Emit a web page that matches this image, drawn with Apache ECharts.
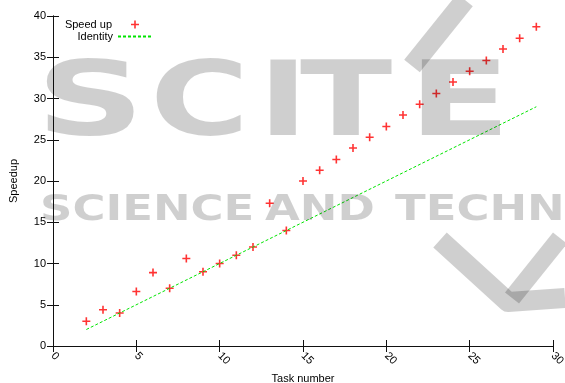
<!DOCTYPE html>
<html>
<head>
<meta charset="utf-8">
<script src="https://cdn.jsdelivr.net/npm/echarts@6/dist/echarts.min.js"></script>
<style>
  html, body { margin: 0; padding: 0; background: #fff; }
  #main { width: 565px; height: 383px; }
</style>
</head>
<body>
<div id="main"></div>
<script>
// measured values
var taskNumbers = [2, 3, 4, 5, 6, 7, 8, 9, 10, 11, 12, 13, 14, 15, 16, 17, 18, 19, 20, 21, 22, 23, 24, 25, 26, 27, 28, 29];
var speedup = [3, 4.4, 4, 6.6, 8.9, 7, 10.6, 9, 10, 11, 12, 17.3, 14, 20, 21.3, 22.6, 24, 25.3, 26.6, 28, 29.3, 30.6, 32, 33.3, 34.6, 36, 37.3, 38.7];
var identityX = [2, 29];
var identityY = [2, 29];
var xTicks = [0, 5, 10, 15, 20, 25, 30];
var yTicks = [0, 5, 10, 15, 20, 25, 30, 35, 40];

document.addEventListener('DOMContentLoaded', function () {
  var myChart = echarts.init(document.getElementById('main'));
  var font = 'Liberation Sans, Arial, sans-serif';
  var plus = 'path://M4,0 H6 V4 H10 V6 H6 V10 H4 V6 H0 V4 H4 Z';
  var wm = 'rgba(0,0,0,0.19)';

  var speedData = taskNumbers.map(function (t, i) { return [t, speedup[i]]; });
  var idData = identityX.map(function (t, i) { return [t, identityY[i]]; });

  // shared axis look (gnuplot style: ticks inside, mirrored)
  function axisBase(extra) {
    var a = {
      axisLine: { show: true, lineStyle: { color: '#111', width: 1 } },
      axisTick: { show: true, inside: true, length: 6, lineStyle: { color: '#111' } },
      splitLine: { show: false },
      axisLabel: { color: '#000', fontFamily: font, fontSize: 11 }
    };
    for (var k in extra) a[k] = extra[k];
    return a;
  }

  // watermark letters
  function wmText(txt, x, y, size, sx) {
    return { type: 'text', left: x, top: y, z: 100, silent: true, scaleX: sx,
      style: { text: txt, fill: wm, font: 'bold ' + size + 'px DejaVu Sans' } };
  }

  var option = {
    animation: false,
    grid: { left: 53, right: 12, top: 16, bottom: 37, outerBoundsMode: 'none' },
    legend: [{
      data: ['Speed up'],
      orient: 'vertical',
      align: 'right',
      right: 426, top: 19,
      padding: 0,
      itemWidth: 8, itemHeight: 8,
      textStyle: { fontFamily: font, fontSize: 11, color: '#000', padding: [0, 14, 0, 0] }
    }, {
      data: ['Identity'],
      orient: 'vertical',
      align: 'right',
      right: 413, top: 31,
      padding: 0,
      itemWidth: 33, itemHeight: 8,
      itemStyle: { opacity: 0 },
      lineStyle: { opacity: 1 },
      textStyle: { fontFamily: font, fontSize: 11, color: '#000' }
    }],
    xAxis: [axisBase({
      type: 'value', min: xTicks[0], max: xTicks[xTicks.length - 1], interval: 5,
      name: 'Task number', nameLocation: 'middle', nameGap: 25,
      nameTextStyle: { fontFamily: font, fontSize: 11, color: '#000' },
      axisLabel: { color: '#000', fontFamily: font, fontSize: 11, rotate: -45, margin: 8 }
    }), axisBase({
      type: 'value', position: 'top', min: xTicks[0], max: xTicks[xTicks.length - 1], interval: 5,
      axisLabel: { show: false }
    })],
    yAxis: [axisBase({
      type: 'value', min: yTicks[0], max: yTicks[yTicks.length - 1], interval: 5,
      name: 'Speedup', nameLocation: 'middle', nameGap: 34,
      nameTextStyle: { fontFamily: font, fontSize: 11, color: '#000' },
      axisLabel: { color: '#000', fontFamily: font, fontSize: 11, margin: 7 }
    }), axisBase({
      type: 'value', position: 'right', min: yTicks[0], max: yTicks[yTicks.length - 1], interval: 5,
      axisLabel: { show: false }
    })],
    series: [{
      name: 'Speed up',
      type: 'scatter',
      symbol: plus,
      symbolSize: 8,
      itemStyle: { color: '#ff0000' },
      data: speedData
    }, {
      name: 'Identity',
      type: 'line',
      symbol: 'none',
      lineStyle: { color: '#00e400', width: 1, type: [3, 2] },
      itemStyle: { color: '#00e400' },
      data: idData
    }],
    // publisher watermark over the plot
    graphic: [
      wmText('S', 36, 56, 104, 1.45),
      wmText('C', 150, 56, 104, 1.3),
      wmText('I', 258, 56, 104, 1.3),
      wmText('T', 300, 56, 104, 1.3),
      wmText('E', 408, 56, 104, 1.45),
      { type: 'line', z: 100, silent: true,
        shape: { x1: 465, y1: 0, x2: 412, y2: 66 },
        style: { stroke: wm, lineWidth: 20 } },
      wmText('SCIENCE', 40, 193, 36, 1.25),
      wmText('AND', 265, 193, 36, 1.25),
      wmText('TECHNOLOGY', 395, 193, 36, 1.25),
      { type: 'polyline', z: 100, silent: true,
        shape: { points: [[440, 240], [508, 302], [565, 298]] },
        style: { stroke: wm, fill: null, lineWidth: 20, lineJoin: 'round' } },
      { type: 'line', z: 100, silent: true,
        shape: { x1: 560, y1: 238, x2: 512, y2: 298 },
        style: { stroke: wm, lineWidth: 18 } }
    ]
  };
  myChart.setOption(option);
});
</script>
</body>
</html>
